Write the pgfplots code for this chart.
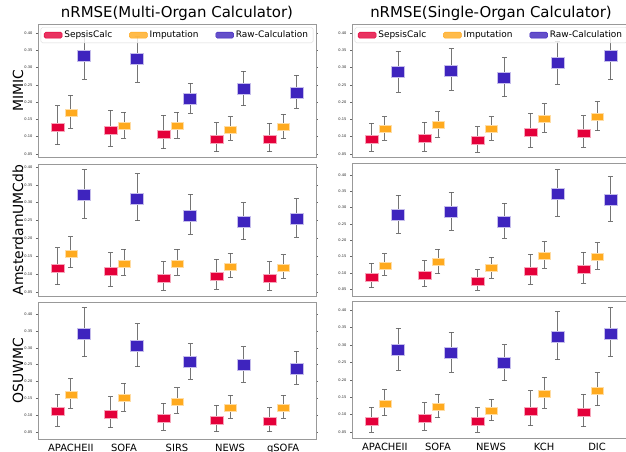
\documentclass[border=0pt]{standalone}
\usepackage{pgfplots}
\pgfplotsset{compat=1.18}
\usepackage{pgfplotstable}
\usepackage{fontspec}
\setmainfont{DejaVu Sans}
\definecolor{sepcol}{RGB}{228,0,58}
\definecolor{impcol}{RGB}{255,170,30}
\definecolor{rawcol}{RGB}{62,36,190}

\pgfdeclareplotmark{sepbox}{\pgfpathrectangle{\pgfpoint{-6.5bp}{-4bp}}{\pgfpoint{13bp}{8bp}}\pgfusepathqfillstroke}
\pgfdeclareplotmark{impbox}{\pgfpathrectangle{\pgfpoint{-6bp}{-3.5bp}}{\pgfpoint{12bp}{7bp}}\pgfusepathqfillstroke}
\pgfdeclareplotmark{rawbox}{\pgfpathrectangle{\pgfpoint{-6.5bp}{-5.5bp}}{\pgfpoint{13bp}{11bp}}\pgfusepathqfillstroke}

% columns: x, SepsisCalc (value, +err, -err), Imputation, Raw-Calculation
\pgfplotstableread{
x s sp sm i ip im r rp rm
0 0.127 0.063 0.050 0.169 0.051 0.044 0.333 0.066 0.066
1 0.117 0.060 0.045 0.131 0.039 0.035 0.325 0.065 0.067
2 0.108 0.054 0.043 0.131 0.039 0.035 0.210 0.044 0.042
3 0.092 0.048 0.036 0.121 0.037 0.031 0.239 0.051 0.050
4 0.092 0.046 0.036 0.127 0.038 0.033 0.228 0.050 0.045
}\tLA
\pgfplotstableread{
x s sp sm i ip im r rp rm
0 0.092 0.046 0.035 0.124 0.034 0.034 0.287 0.061 0.058
1 0.094 0.047 0.036 0.133 0.039 0.034 0.291 0.063 0.057
2 0.088 0.041 0.033 0.124 0.034 0.034 0.271 0.057 0.055
3 0.112 0.056 0.042 0.151 0.044 0.039 0.314 0.063 0.063
4 0.110 0.050 0.040 0.156 0.045 0.039 0.333 0.068 0.068
}\tRA
\pgfplotstableread{
x s sp sm i ip im r rp rm
0 0.117 0.057 0.046 0.158 0.047 0.040 0.322 0.070 0.066
1 0.108 0.052 0.041 0.130 0.040 0.033 0.312 0.069 0.062
2 0.089 0.046 0.033 0.130 0.040 0.033 0.264 0.059 0.052
3 0.094 0.048 0.036 0.121 0.037 0.031 0.246 0.054 0.050
4 0.089 0.046 0.033 0.118 0.037 0.029 0.256 0.055 0.053
}\tLB
\pgfplotstableread{
x s sp sm i ip im r rp rm
0 0.087 0.042 0.032 0.123 0.036 0.030 0.277 0.061 0.056
1 0.093 0.044 0.035 0.133 0.039 0.035 0.287 0.060 0.057
2 0.073 0.037 0.026 0.114 0.034 0.030 0.257 0.056 0.051
3 0.106 0.051 0.041 0.151 0.045 0.037 0.343 0.074 0.070
4 0.110 0.053 0.042 0.149 0.044 0.038 0.325 0.070 0.067
}\tRB
\pgfplotstableread{
x s sp sm i ip im r rp rm
0 0.110 0.053 0.043 0.160 0.048 0.040 0.343 0.076 0.069
1 0.103 0.052 0.040 0.151 0.044 0.040 0.305 0.066 0.061
2 0.091 0.045 0.036 0.140 0.041 0.035 0.258 0.054 0.052
3 0.085 0.044 0.034 0.123 0.036 0.033 0.248 0.055 0.051
4 0.082 0.040 0.031 0.123 0.036 0.033 0.237 0.053 0.046
}\tLC
\pgfplotstableread{
x s sp sm i ip im r rp rm
0 0.082 0.040 0.032 0.131 0.040 0.034 0.286 0.062 0.058
1 0.090 0.044 0.035 0.122 0.036 0.031 0.276 0.061 0.055
2 0.082 0.040 0.032 0.112 0.033 0.029 0.249 0.052 0.052
3 0.111 0.058 0.043 0.159 0.049 0.041 0.324 0.071 0.066
4 0.108 0.051 0.043 0.169 0.051 0.043 0.333 0.074 0.066
}\tRC

\pgfplotsset{
  sbox/.style={only marks, color=sepcol, mark=sepbox, mark options={fill=sepcol, draw=sepcol!35!white, line width=0.6bp},
    legend image code/.code={\fill[sepcol] (0bp,-3bp) rectangle (18bp,3bp);}},
  ibox/.style={only marks, color=impcol, mark=impbox, mark options={fill=impcol, draw=impcol!40!white, line width=0.6bp},
    legend image code/.code={\fill[impcol] (0bp,-3bp) rectangle (18bp,3bp);}},
  rbox/.style={only marks, color=rawcol, mark=rawbox, mark options={fill=rawcol, draw=rawcol!30!white, line width=0.6bp},
    legend image code/.code={\fill[rawcol] (0bp,-3bp) rectangle (18bp,3bp);}},
  errs/.style={draw=none, mark=none, forget plot,
    error bars/.cd, y dir=both, y explicit,
    error bar style={draw=black!60, line width=0.8bp, draw opacity=0.9},
    error mark options={rotate=90, mark size=2.5bp, draw=black!60, line width=0.8bp}},
  panel/.style={scale only axis, width=278bp, anchor=north west,
    xmin=-0.62, xmax=4.62, xtick={0,1,2,3,4}, xticklabels={},
    major x tick style={draw=none},
    ytick={0.05,0.10,0.15,0.20,0.25,0.30,0.35,0.40},
    yticklabel style={font=\fontsize{3.6}{4}\selectfont, text=black!85, /pgf/number format/.cd, fixed, fixed zerofill, precision=2, assume math mode=true},
    axis line style={black!40, line width=0.8bp},
    tick align=outside, major tick length=2bp,
    major y tick style={black!60, line width=0.4bp},
    xticklabel style={font=\fontsize{10}{11}\selectfont, inner sep=0pt, yshift=-2.5bp, text depth=0pt},
    ylabel style={font=\fontsize{14}{16}\selectfont, at={(axis description cs:-0.072,0.5)}, anchor=center},
    title style={font=\fontsize{15}{17}\selectfont, at={(axis description cs:0.5,1)}, anchor=south, yshift=-3.5bp, inner sep=1bp},
    legend style={at={(axis description cs:0.5,0.975)}, anchor=north, legend columns=3,
      draw=black!15, fill=white, fill opacity=0.8, text opacity=1, rounded corners=1.5bp,
      font=\fontsize{9}{10}\selectfont, inner xsep=3bp, inner ysep=1.5bp,
      /tikz/every even column/.append style={column sep=15bp}},
  },
}

\newcommand{\panelplots}[1]{%
  \addplot[sbox] table[x expr=\thisrow{x}-0.25, y=s] {#1};
  \addplot[ibox] table[x=x, y=i] {#1};
  \addplot[rbox] table[x expr=\thisrow{x}+0.25, y=r] {#1};
  \addplot[errs] table[x expr=\thisrow{x}-0.25, y=s, y error plus=sp, y error minus=sm] {#1};
  \addplot[errs] table[x=x, y=i, y error plus=ip, y error minus=im] {#1};
  \addplot[errs] table[x expr=\thisrow{x}+0.25, y=r, y error plus=rp, y error minus=rm] {#1};
}

\begin{document}
\begin{tikzpicture}
\path[use as bounding box] (0bp,-452bp) rectangle (626bp,0bp);
\clip (0bp,-452bp) rectangle (626bp,0bp);

% Row 1
\begin{axis}[panel, at={(38bp,-24bp)}, height=133bp, ymin=0.041, ymax=0.426,
  title={nRMSE(Multi-Organ Calculator)}, ylabel={MIMIC}]
\panelplots{\tLA}
\legend{SepsisCalc, Imputation, Raw-Calculation}
\end{axis}
\begin{axis}[panel, at={(352bp,-24bp)}, height=133bp, ymin=0.041, ymax=0.426,
  title={nRMSE(Single-Organ Calculator)}]
\panelplots{\tRA}
\legend{SepsisCalc, Imputation, Raw-Calculation}
\end{axis}

% Row 2
\begin{axis}[panel, at={(38bp,-164bp)}, height=132bp, ymin=0.039, ymax=0.408,
  ylabel={AmsterdamUMCdb}]
\panelplots{\tLB}
\end{axis}
\begin{axis}[panel, at={(352bp,-163bp)}, height=133bp, ymin=0.029, ymax=0.437]
\panelplots{\tRB}
\end{axis}

% Row 3
\begin{axis}[panel, at={(38bp,-302bp)}, height=137bp, ymin=0.029, ymax=0.436,
  ylabel={OSUWMC}, xticklabels={APACHEII,SOFA,SIRS,NEWS,qSOFA}]
\panelplots{\tLC}
\end{axis}
\begin{axis}[panel, at={(352bp,-301bp)}, height=137bp, ymin=0.033, ymax=0.426,
  xticklabels={APACHEII,SOFA,NEWS,KCH,DIC}]
\panelplots{\tRC}
\end{axis}
\end{tikzpicture}
\end{document}
